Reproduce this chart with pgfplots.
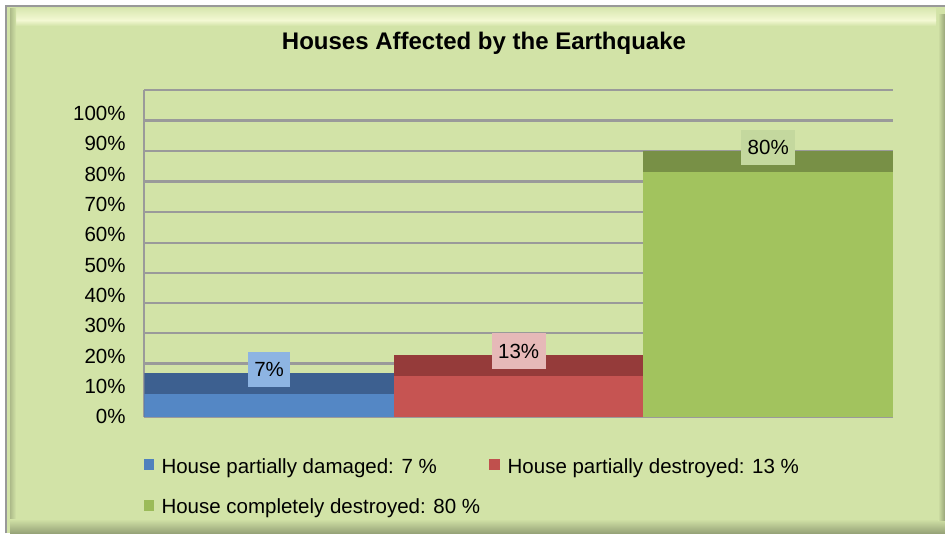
\documentclass[border=0pt]{standalone}
\usepackage{fontspec}
\setmainfont{Liberation Sans}
\usepackage{pgfplots}
\pgfplotsset{compat=1.18}
\definecolor{bg}{HTML}{D2E3A7}
\definecolor{hl}{HTML}{F3F8D3}
\definecolor{gridc}{HTML}{9A9A9A}
\definecolor{blueF}{HTML}{5487C5}
\definecolor{blueT}{HTML}{3D6090}
\definecolor{redF}{HTML}{C65452}
\definecolor{redT}{HTML}{953B3A}
\definecolor{greenF}{HTML}{A2C35E}
\definecolor{greenT}{HTML}{789046}
\definecolor{lblB}{HTML}{8DB4E2}
\definecolor{lblR}{HTML}{E6B9B8}
\definecolor{lblG}{HTML}{C4D89E}
\definecolor{legB}{HTML}{4F81BD}
\definecolor{legR}{HTML}{C0504D}
\definecolor{legG}{HTML}{9BBB59}
\newcommand{\fs}{\fontsize{20.5}{24}\selectfont}
\begin{document}
\begin{tikzpicture}
\path[use as bounding box] (0,0) rectangle (945pt,-533pt);
\fill[white] (0,0) rectangle (945pt,-533pt);
\fill[bg] (6pt,-6pt) rectangle (945pt,-533pt);
% bevel
\shade[top color=bg!80!hl, bottom color=hl] (14pt,-8pt) rectangle (936pt,-20pt);
\shade[top color=hl, bottom color=bg] (14pt,-20pt) rectangle (936pt,-26pt);
\shade[left color=bg!70!black!60!bg, right color=bg] (10pt,-8pt) rectangle (16pt,-520pt);
\shade[top color=bg, bottom color=bg!60!black!70!bg] (10pt,-519pt) rectangle (945pt,-533pt);
\shade[left color=bg, right color=bg!60!black!70!bg] (938pt,-14pt) rectangle (945pt,-520pt);
\draw[gray!80, line width=2pt] (6pt,-533pt) -- (6pt,-5.5pt) -- (945pt,-5.5pt);
% title
\node[font=\bfseries\fontsize{24}{28}\selectfont, anchor=base, inner sep=0pt] at (484pt,-49.3pt) {Houses Affected by the Earthquake};
\begin{axis}[
  at={(144.3pt,-416.7pt)}, anchor=south west,
  scale only axis, width=748.7pt, height=326.7pt,
  xmin=0, xmax=3, ymin=0, ymax=107.7,
  axis x line*=bottom, axis y line*=left,
  axis line style={-, draw=gridc, line width=1.8pt},
  xtick=\empty,
  ytick={0,10,20,30,40,50,60,70,80,90,100},
  yticklabels={0\%,10\%,20\%,30\%,40\%,50\%,60\%,70\%,80\%,90\%,100\%},
  major tick length=0pt,
  yticklabel style={font=\fs, inner sep=0pt, anchor=east, xshift=-18.5pt},
  extra y ticks={17.6,27.6,37.5,47.4,57.3,67.4,77.5,87.5,97.6,107.7},
  extra y tick labels={},
  extra y tick style={grid=major, major grid style={draw=gridc, line width=2.4pt}},
  legend columns=2,
  legend cell align=left,
  legend style={draw=none, fill=none, at={(axis description cs:0,-0.1264)}, anchor=north west,
    font=\fs, inner sep=0pt, row sep=24pt,
    nodes={inner sep=0pt},
    /tikz/every odd column/.style={column sep=7.5pt},
    /tikz/every even column/.style={column sep=9pt}},
]
% top (back) faces
\addplot[ybar, bar width=1, bar shift=0pt, fill=blueT, draw=none, forget plot,
  nodes near coords={7\%},
  every node near coord/.append style={fill=lblB, font=\fs, text=black, inner xsep=6.2pt, inner ysep=0pt, minimum height=35pt, anchor=south, yshift=-13.5pt}]
  coordinates {(0.5,14.3)};
\addplot[ybar, bar width=1, bar shift=0pt, fill=redT, draw=none, forget plot,
  nodes near coords={13\%},
  every node near coord/.append style={fill=lblR, font=\fs, text=black, inner xsep=6.5pt, inner ysep=0pt, minimum height=36pt, anchor=south, yshift=-14.5pt}]
  coordinates {(1.5,20.3)};
\addplot[ybar, bar width=1, bar shift=0pt, fill=greenT, draw=none, forget plot,
  nodes near coords={80\%},
  every node near coord/.append style={fill=lblG, font=\fs, text=black, inner xsep=6.5pt, inner ysep=0pt, minimum height=35pt, anchor=south, yshift=-13.7pt}]
  coordinates {(2.5,87.5)};
% front faces
\addplot[ybar, bar width=1, bar shift=0pt, fill=blueF, draw=none,
  legend image code/.code={\fill[legB] (0pt,-4pt) rectangle (9.5pt,7pt);}]
  coordinates {(0.5,7.5)};
\addlegendentry{House partially damaged: 7 \%}
\addplot[ybar, bar width=1, bar shift=0pt, fill=redF, draw=none,
  legend image code/.code={\fill[legR] (0pt,-4pt) rectangle (11pt,7pt);}]
  coordinates {(1.5,13.5)};
\addlegendentry{House partially destroyed: 13 \%}
\addplot[ybar, bar width=1, bar shift=0pt, fill=greenF, draw=none,
  legend image code/.code={\fill[legG] (0pt,-4pt) rectangle (9.5pt,7pt);}]
  coordinates {(2.5,80.7)};
\addlegendentry{House completely destroyed: 80 \%}
\end{axis}
\end{tikzpicture}
\end{document}
